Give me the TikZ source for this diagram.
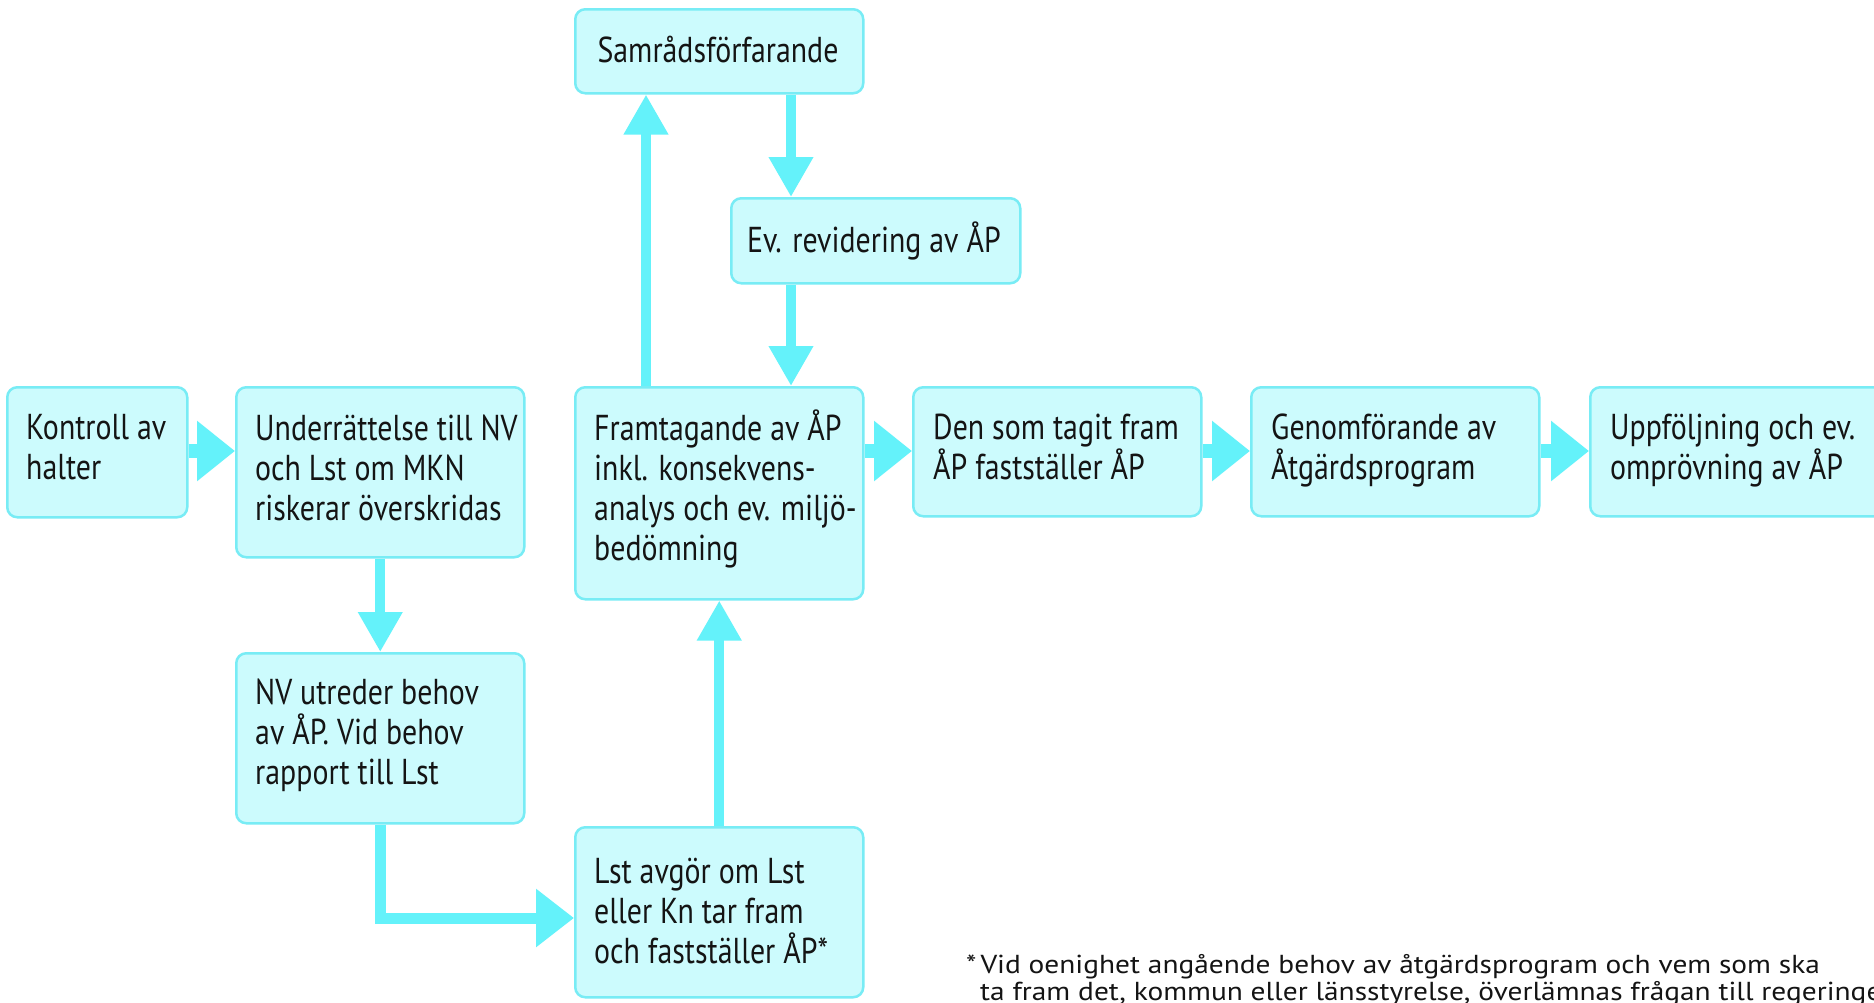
\documentclass[tikz,border=0pt]{standalone}
\usepackage{fontspec}
\setmainfont[FakeStretch=0.83]{PT Sans}
\newfontfamily\fnfont[FakeStretch=1.13]{PT Sans}
\usetikzlibrary{arrows.meta}
\definecolor{boxfill}{RGB}{204,251,253}
\definecolor{boxline}{RGB}{120,236,245}
\definecolor{arrowc}{RGB}{100,242,250}
\definecolor{txtc}{RGB}{20,20,20}
\pgfdeclarelayer{bg}
\pgfsetlayers{bg,main}
\newcommand{\fs}{\rule{0pt}{32pt}}
\begin{document}
\begin{tikzpicture}[x=1pt,y=-1pt,
  box/.style={draw=boxline, fill=boxfill, line width=2.5pt, rounded corners=10pt, inner sep=0pt, anchor=north west},
  txt/.style={inner sep=0pt, anchor=north west, align=left, text=txtc, font=\fontsize{36}{40}\selectfont},
  harr/.style={draw=arrowc, line width=14pt, -{Triangle[length=38pt,width=58pt]}},
  larr/.style={draw=arrowc, line width=11pt, line join=miter, -{Triangle[length=38pt,width=56pt]}},
  varr/.style={draw=arrowc, line width=10pt, -{Triangle[length=40pt,width=42pt]}}
]
\useasboundingbox (0,0) rectangle (1874,1002);

% boxes
\node[box, minimum width=180pt, minimum height=130pt] (kon) at (6,386) {};
\node[box, minimum width=288pt, minimum height=170pt] (und) at (235,386) {};
\node[box, minimum width=288pt, minimum height=170pt] (nv) at (235,652) {};
\node[box, minimum width=288pt, minimum height=170pt] (lst) at (574,826) {};
\node[box, minimum width=288pt, minimum height=212pt] (fram) at (574,386) {};
\node[box, minimum width=288pt, minimum height=84pt] (sam) at (574,8) {};
\node[box, minimum width=289pt, minimum height=85pt] (ev) at (730,197) {};
\node[box, minimum width=288pt, minimum height=129pt] (den) at (912,386) {};
\node[box, minimum width=288pt, minimum height=129pt] (gen) at (1250,386) {};
\node[box, minimum width=300pt, minimum height=129pt] (upp) at (1589,386) {};

% texts
\node[txt] (kon-t) at (26,407) {\fs Kontroll av\\halter};
\node[txt] (und-t) at (255,408) {\fs Underrättelse till NV\\och Lst om MKN\\riskerar överskridas};
\node[txt] (fram-t) at (594,408) {\fs Framtagande av ÅP\\inkl. konsekvens-\\analys och ev. miljö-\\bedömning};
\node[txt] (nv-t) at (255,672) {\fs NV utreder behov\\av ÅP. Vid behov\\rapport till Lst};
\node[txt] (lst-t) at (594,851) {\fs Lst avgör om Lst\\eller Kn tar fram\\och fastställer ÅP*};
\node[txt] (den-t) at (933,407) {\fs Den som tagit fram\\ÅP fastställer ÅP};
\node[txt] (gen-t) at (1271,407) {\fs Genomförande av\\Åtgärdsprogram};
\node[txt] (upp-t) at (1610,407) {\fs Uppföljning och ev.\\omprövning av ÅP};
\node[txt, anchor=base] (sam-t) at (718,62) {Samrådsförfarande};
\node[txt, anchor=base] (ev-t) at (874,252) {Ev. revidering av ÅP};
\node[txt, font=\fnfont\fontsize{26}{27}\selectfont] (fn) at (966,947) {\rule{0pt}{26pt}*\hspace{4pt}Vid oenighet angående behov av åtgärdsprogram och vem som ska\\\hspace*{14pt}ta fram det, kommun eller länsstyrelse, överlämnas frågan till regeringen};

% connectors
\coordinate (rowy) at (0,451);
\coordinate (elb) at (0,918);
\coordinate (upx) at (646,0);
\coordinate (dnx) at (791,0);
\begin{pgfonlayer}{bg}
\fill[white] (0,0) rectangle (1874,1002);
\draw[harr] (kon.east |- rowy) -- (und.west |- rowy);
\draw[harr] (fram.east |- rowy) -- (den.west |- rowy);
\draw[harr] (den.east |- rowy) -- (gen.west |- rowy);
\draw[harr] (gen.east |- rowy) -- (upp.west |- rowy);
\draw[varr] (und.south) -- (nv.north);
\draw[larr] (nv.south) |- (elb -| lst.west);
\draw[varr] (lst.north) -- (fram.south);
\draw[varr] (upx |- fram.north) -- (upx |- sam.south);
\draw[varr] (dnx |- sam.south) -- (dnx |- ev.north);
\draw[varr] (dnx |- ev.south) -- (dnx |- fram.north);
\end{pgfonlayer}
\end{tikzpicture}
\end{document}
